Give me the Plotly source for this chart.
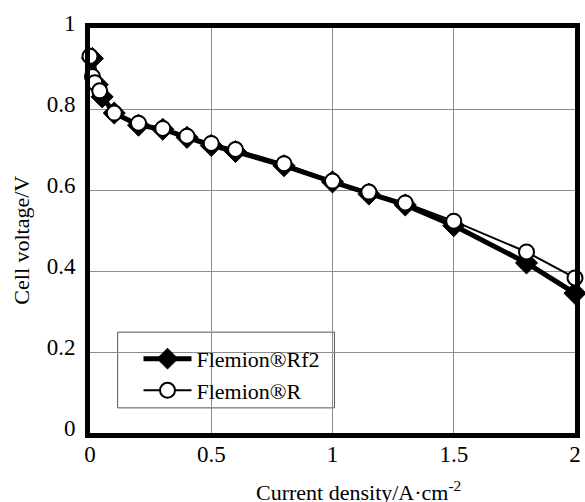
import plotly.graph_objects as go

# Data
rf2_x = [0.01, 0.03, 0.05, 0.1, 0.2, 0.3, 0.4, 0.5, 0.6, 0.8, 1.0, 1.15, 1.3, 1.5, 1.8, 2.0]
rf2_y = [0.925, 0.86, 0.83, 0.79, 0.76, 0.75, 0.73, 0.71, 0.695, 0.66, 0.62, 0.59, 0.563, 0.512, 0.42, 0.345]

r_x = [0.0, 0.01, 0.02, 0.04, 0.1, 0.2, 0.3, 0.4, 0.5, 0.6, 0.8, 1.0, 1.15, 1.3, 1.5, 1.8, 2.0]
r_y = [0.93, 0.88, 0.865, 0.845, 0.79, 0.765, 0.752, 0.733, 0.715, 0.70, 0.665, 0.622, 0.595, 0.568, 0.523, 0.447, 0.383]

x_ticks = [0, 0.5, 1, 1.5, 2]
x_tick_labels = ["0", "0.5", "1", "1.5", "2"]
y_ticks = [0, 0.2, 0.4, 0.6, 0.8, 1]
y_tick_labels = ["0", "0.2", "0.4", "0.6", "0.8", "1"]

FONT = "Liberation Serif, Times New Roman, serif"

fig = go.Figure()
fig.add_trace(go.Scatter(
    x=rf2_x, y=rf2_y, mode="lines+markers", name="Flemion®Rf2",
    line=dict(color="black", width=5),
    marker=dict(symbol="diamond", size=17, color="black", line=dict(color="black", width=1)),
    cliponaxis=False,
))
fig.add_trace(go.Scatter(
    x=r_x, y=r_y, mode="lines+markers", name="Flemion®R",
    line=dict(color="black", width=2),
    marker=dict(symbol="circle", size=15, color="white", line=dict(color="black", width=2)),
    cliponaxis=False,
))

fig.update_layout(
    width=585, height=502,
    margin=dict(l=90, r=5, t=28, b=69),
    paper_bgcolor="white", plot_bgcolor="white",
    font=dict(family=FONT, size=22, color="black"),
    showlegend=True,
    legend=dict(
        x=0.1, y=0.235, xanchor="left", yanchor="top",
        bgcolor="rgba(0,0,0,0)", borderwidth=0,
        font=dict(family=FONT, size=22, color="black"),
        itemwidth=48,
    ),
    xaxis=dict(
        range=[0, 2], tickvals=x_ticks, ticktext=x_tick_labels,
        showgrid=True, gridcolor="#8c8c8c", gridwidth=1,
        showline=True, linecolor="black", linewidth=5, mirror=True,
        ticks="", zeroline=False, ticklabelstandoff=-4,
        tickfont=dict(family=FONT, size=23),
    ),
    yaxis=dict(
        range=[0, 1], tickvals=y_ticks, ticktext=y_tick_labels,
        showgrid=True, gridcolor="#8c8c8c", gridwidth=1,
        showline=True, linecolor="black", linewidth=5, mirror=True,
        ticks="", zeroline=False, ticklabelstandoff=5, ticklabelshift=-5,
        tickfont=dict(family=FONT, size=23),
    ),
    shapes=[dict(
        type="rect", xref="x", yref="y", layer="below",
        x0=0.114, x1=1.008, y0=0.062, y1=0.249,
        fillcolor="white", line=dict(color="#555555", width=1),
    )],
    annotations=[
        dict(
            text="Current density/A·cm<sup>-2</sup>", x=0.553, y=-0.143,
            xref="paper", yref="paper", xanchor="center", yanchor="middle",
            showarrow=False, font=dict(family=FONT, size=22),
        ),
        dict(
            text="Cell voltage/V", x=-0.143, y=0.4765, textangle=-90,
            xref="paper", yref="paper", xanchor="center", yanchor="middle",
            showarrow=False, font=dict(family=FONT, size=22),
        ),
    ],
)

fig.write_html("out.html")
